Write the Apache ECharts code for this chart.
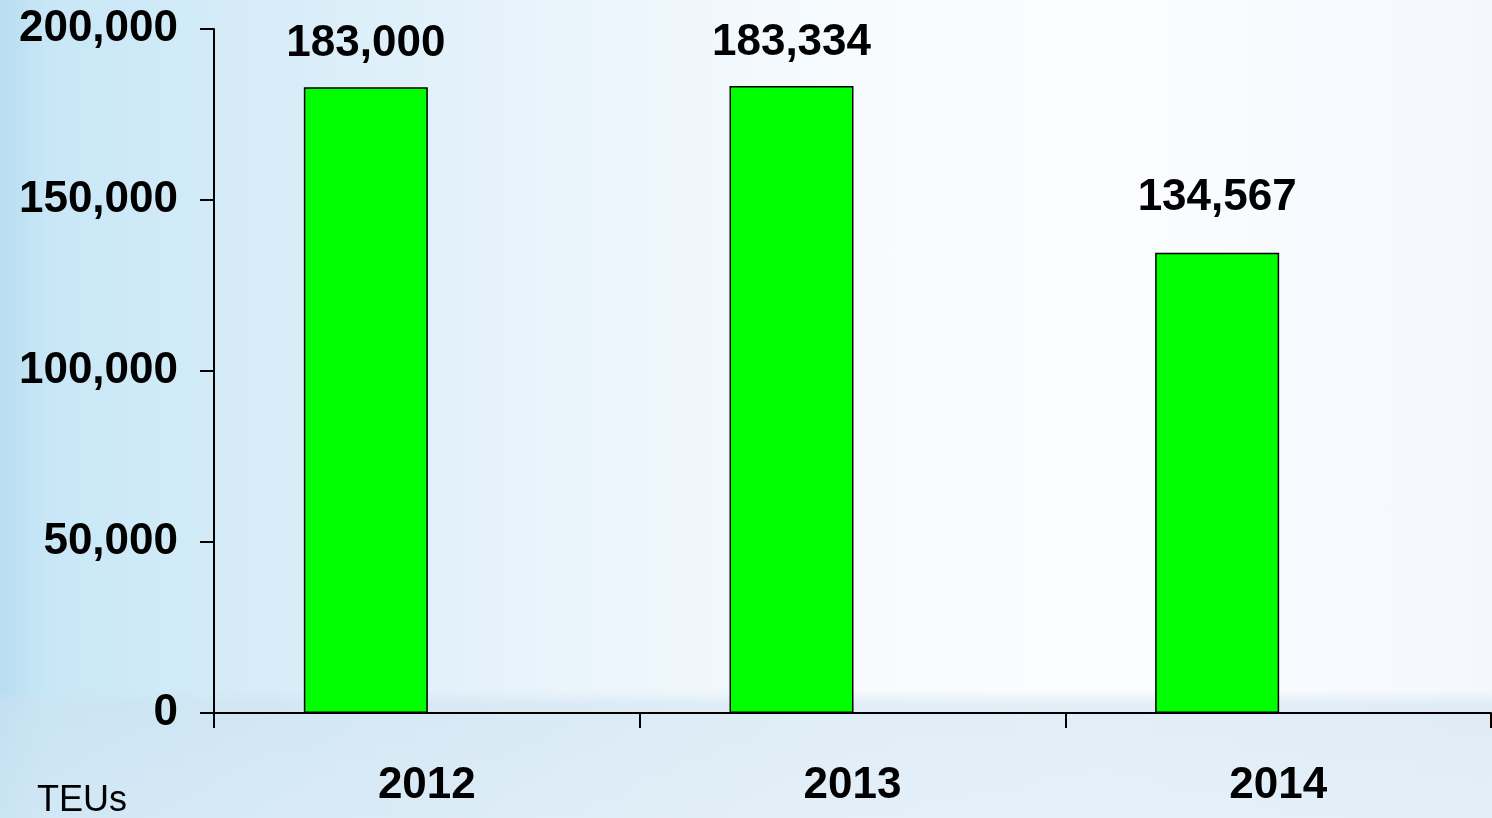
<!DOCTYPE html>
<html>
<head>
<meta charset="utf-8">
<script src="https://cdn.jsdelivr.net/npm/echarts@6/dist/echarts.min.js"></script>
<style>
  html, body { margin: 0; padding: 0; }
  body {
    width: 1492px; height: 818px; overflow: hidden;
    background:
      linear-gradient(to bottom, rgba(255,255,255,0) 0px, rgba(255,255,255,0) 690px, rgba(205,226,240,0.55) 705px, rgba(215,232,245,0.6) 818px),
      linear-gradient(to right, #b8def1 0px, #c8e7f6 50px, #d6ecf8 250px, #e9f4fb 550px, #f7fbfe 850px, #fbfdff 1100px, #f4f8fd 1492px);
  }
  #chart { width: 1492px; height: 818px; }
</style>
</head>
<body>
<div id="chart"></div>
<script>
"use strict";

var years = ['2012', '2013', '2014'];
var teus = [183000, 183334, 134567];
var yTicks = [0, 50000, 100000, 150000, 200000];

function commas(v) {
  return String(v).replace(/\B(?=(\d{3})+(?!\d))/g, ',');
}

var chart = echarts.init(document.getElementById('chart'));

// 2014 label sits a bit higher above its bar than the others
var barData = teus.map(function (v, i) {
  return { value: v, label: { distance: i === 2 ? 33 : 21 } };
});

var font = '"Liberation Sans", Arial, sans-serif';

var option = {
  backgroundColor: 'transparent',
  animation: false,
  grid: { left: 214, right: 1, top: 29, bottom: 105 },
  xAxis: {
    type: 'category',
    data: years,
    axisLine: { lineStyle: { color: '#000', width: 2 } },
    axisTick: { show: true, length: 15, lineStyle: { color: '#000', width: 2 } },
    axisLabel: {
      color: '#000', fontSize: 44, fontWeight: 'bold', fontFamily: font, margin: 51
    },
    splitLine: { show: false }
  },
  yAxis: {
    type: 'value',
    min: yTicks[0],
    max: yTicks[yTicks.length - 1],
    interval: yTicks[1] - yTicks[0],
    axisLine: { show: true, lineStyle: { color: '#000', width: 2 } },
    axisTick: { show: true, length: 14, lineStyle: { color: '#000', width: 2 } },
    axisLabel: {
      color: '#000', fontSize: 44, fontWeight: 'bold', fontFamily: font, margin: 36,
      formatter: function (v) { return commas(v); }
    },
    splitLine: { show: false }
  },
  series: [
    {
      name: 'TEUs',
      type: 'bar',
      data: barData,
      barWidth: 124,
      barGap: '0%',
      itemStyle: { color: '#00ff00', borderColor: '#000', borderWidth: 1.5 },
      label: {
        show: true,
        position: 'top',
        color: '#000',
        fontSize: 44,
        fontWeight: 'bold',
        fontFamily: font,
        formatter: function (p) { return commas(p.value); }
      }
    },
    {
      // empty companion series so the bars sit left of the category centre
      name: 'spacer',
      type: 'bar',
      data: [],
      barWidth: 122,
      barGap: '0%'
    }
  ],
  graphic: [{
    type: 'text',
    left: 37,
    top: 783,
    style: { text: 'TEUs', fill: '#000', font: '36px ' + font }
  }]
};

chart.setOption(option);
</script>
</body>
</html>
